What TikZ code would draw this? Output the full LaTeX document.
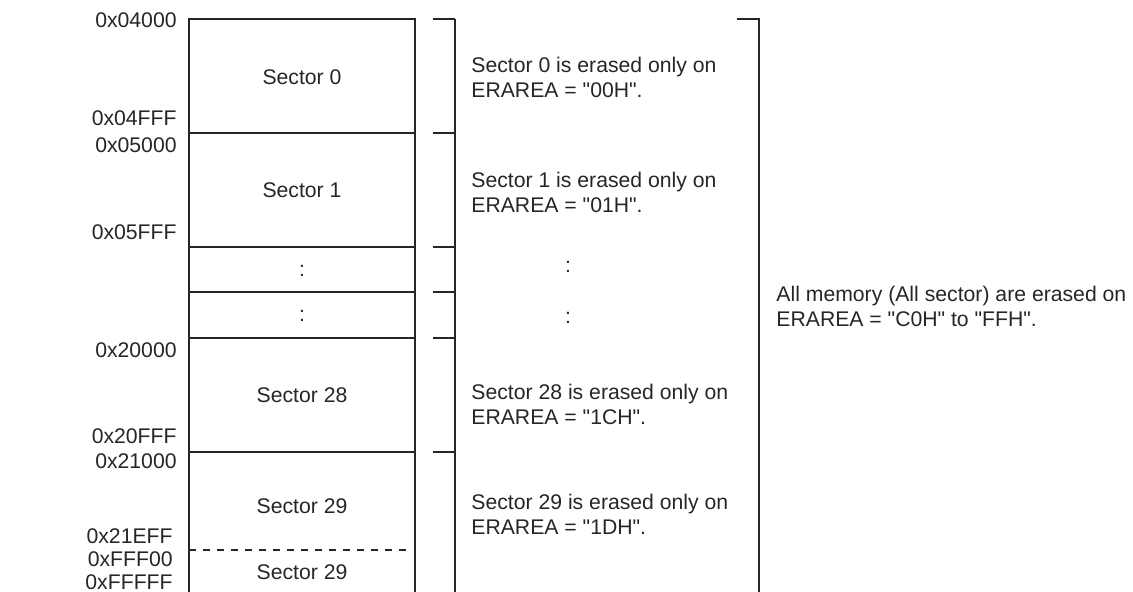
\documentclass[tikz,border=0pt]{standalone}
\usepackage{fontspec}
\setmainfont{Liberation Sans}[Ligatures=TeXReset]
\usetikzlibrary{positioning}

\begin{document}
\begin{tikzpicture}[x=0.5pt, y=-0.5pt, font=\fontsize{10.6}{12.5}\selectfont,
  every node/.style={text=black!85, inner sep=0pt},
  addr/.style={anchor=east},
  note/.style={anchor=west, align=left},
  rule/.style={draw=black!85, line width=1pt}]
  \useasboundingbox (0,0) rectangle (1133,592);
  % memory map
  \draw[rule] (189,592) -- (189,19) -- (415,19) -- (415,592);
  \foreach \y in {133,247,292,338,452} \draw[rule] (189,\y) -- (415,\y);
  \draw[rule, dash pattern=on 3.5pt off 3.5pt] (189,550) -- (408,550);
  \foreach \y/\lab [count=\i] in {77/Sector 0, 190/Sector 1, 271/:, 316/:,
      395/Sector 28, 506/Sector 29, 572/Sector 29}
    \node (sec\i) at (302,\y) {\lab};
  % addresses
  \foreach \y/\lab [count=\i] in {20/0x04000, 118/0x04FFF, 145/0x05000, 232/0x05FFF,
      350/0x20000, 436/0x20FFF, 461/0x21000}
    \node[addr] (adr\i) at (177,\y) {\lab};
  \node[addr] (adr8) at (173,536) {0x21EFF};
  \node[addr] (adr9) at (173,559) {0xFFF00};
  \node[addr] (adr10) at (173,582) {0xFFFFF};
  % per-sector bracket
  \draw[rule] (455,19) -- (455,592);
  \foreach \y in {19,133,247,292,338,452} \draw[rule] (433,\y) -- (455,\y);
  \node[note] (era0) at (471,77.5) {Sector 0 is erased only on\\ERAREA = "00H".};
  \node[note] (era1) at (471,192.5) {Sector 1 is erased only on\\ERAREA = "01H".};
  \node (dot1) at (568,267) {:};
  \node (dot2) at (568,318) {:};
  \node[note] (era28) at (471,404.5) {Sector 28 is erased only on\\ERAREA = "1CH".};
  \node[note] (era29) at (471,514.5) {Sector 29 is erased only on\\ERAREA = "1DH".};
  % whole memory
  \draw[rule] (737,19) -- (759,19) -- (759,592);
  \node[note] (eraall) at (776,306.5) {All memory (All sector) are erased on\\ERAREA = "C0H" to "FFH".};
\end{tikzpicture}
\end{document}
